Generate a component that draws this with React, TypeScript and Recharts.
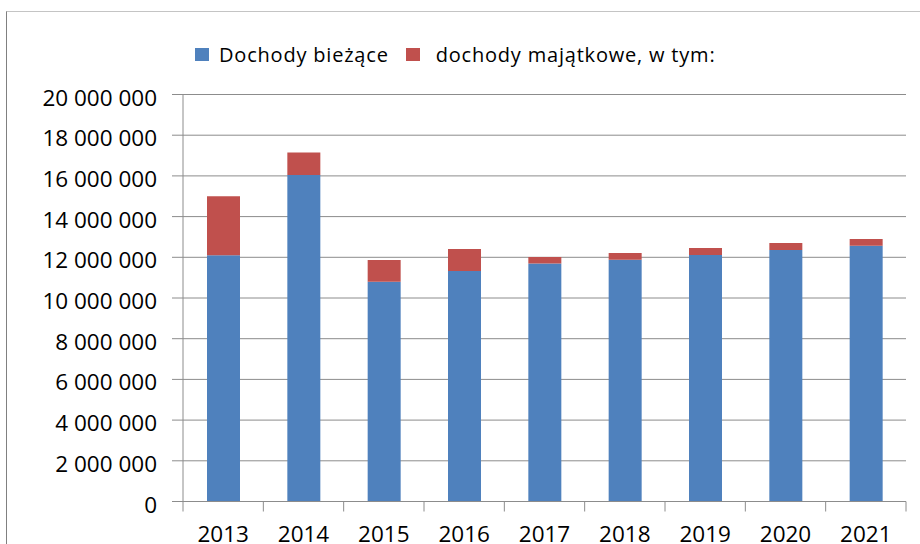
import { BarChart, Bar, XAxis, YAxis, CartesianGrid } from 'recharts';

const YEARS = ['2013', '2014', '2015', '2016', '2017', '2018', '2019', '2020', '2021'];
const DOCHODY_BIEZACE = [12100000, 16050000, 10800000, 11330000, 11690000, 11880000, 12110000, 12360000, 12570000];
const DOCHODY_MAJATKOWE = [2900000, 1100000, 1070000, 1080000, 320000, 330000, 350000, 340000, 330000];
const Y_TICKS = [0, 2000000, 4000000, 6000000, 8000000, 10000000, 12000000, 14000000, 16000000, 18000000, 20000000];
const SERIES = [
  { key: 'biezace', label: 'Dochody bieżące', color: '#4F81BD' },
  { key: 'majatkowe', label: 'dochody majątkowe, w tym:', color: '#C0504D' },
];

const W = 920;
const H = 544;
const X_AXIS_H = 30;
const MARGIN = { top: 94.5, right: 14, bottom: 42.5 - X_AXIS_H, left: 0 };
const Y_AXIS_W = 183;
const PLOT_W = W - MARGIN.left - MARGIN.right - Y_AXIS_W;
const BAND = PLOT_W / YEARS.length;
const FONT = '"Open Sans", sans-serif';
const AXIS_GRAY = '#8c8c8c';

const data = YEARS.map((year, i) => ({
  year,
  biezace: DOCHODY_BIEZACE[i],
  majatkowe: DOCHODY_MAJATKOWE[i],
}));

const fmt = (v: number) => v.toString().replace(/\B(?=(\d{3})+(?!\d))/g, ' ');

const X_TICK_SIZE = 10;
const X_TICK_MARGIN = 15;

function XTick(props: any) {
  const { x, y, payload, index } = props;
  const axisY = y - X_TICK_SIZE - X_TICK_MARGIN;
  const half = BAND / 2;
  return (
    <g>
      <line x1={x - half} x2={x - half} y1={axisY} y2={axisY + X_TICK_SIZE} stroke={AXIS_GRAY} />
      {index === YEARS.length - 1 && (
        <line x1={x + half} x2={x + half} y1={axisY} y2={axisY + X_TICK_SIZE} stroke={AXIS_GRAY} />
      )}
      <text x={x} y={y} dy="0.71em" textAnchor="middle" fontSize={22.5} fontFamily={FONT} fill="#000">
        {payload.value}
      </text>
    </g>
  );
}

function YTick(props: any) {
  const { x, y, payload } = props;
  return (
    <text x={x} y={y} dy={11} textAnchor="end" fontSize={22.5} fontFamily={FONT} fill="#000">
      {fmt(payload.value)}
    </text>
  );
}

function LegendBox() {
  return (
    <div
      style={{
        position: 'absolute',
        top: 41,
        left: 195,
        display: 'flex',
        alignItems: 'center',
        fontFamily: FONT,
        fontSize: 20,
        letterSpacing: 0.8,
        color: '#000',
        whiteSpace: 'nowrap',
      }}
    >
      {SERIES.map((s, i) => (
        <div key={s.key} style={{ display: 'flex', alignItems: 'center', marginRight: i === 0 ? 17 : 0 }}>
          <span style={{ width: 14, height: 13, background: s.color, display: 'inline-block', marginRight: i === 0 ? 10 : 16 }} />
          <span>{s.label}</span>
        </div>
      ))}
    </div>
  );
}

export default function App() {
  return (
    <div style={{ position: 'relative', width: W, height: H, overflow: 'hidden', background: '#fff' }}>
      <style>{'body{margin:0}'}</style>
      <div
        style={{
          position: 'absolute',
          left: 6,
          top: 11,
          width: W,
          height: H,
          borderTop: '1px solid #c4c4c4',
          borderLeft: '1px solid #808080',
        }}
      />
      <LegendBox />
      <div style={{ position: 'absolute', left: 0, top: 0 }}>
        <BarChart width={W} height={H} data={data} margin={MARGIN} barSize={33}>
          <CartesianGrid vertical={false} stroke={AXIS_GRAY} />
          <XAxis
            dataKey="year"
            height={X_AXIS_H}
            axisLine={{ stroke: AXIS_GRAY }}
            tickLine={false}
            tickSize={X_TICK_SIZE}
            tickMargin={X_TICK_MARGIN}
            tick={<XTick />}
            interval={0}
          />
          <YAxis
            width={Y_AXIS_W}
            domain={[0, 20000000]}
            ticks={Y_TICKS}
            interval={0}
            axisLine={{ stroke: AXIS_GRAY }}
            tickLine={{ stroke: AXIS_GRAY }}
            tickSize={11}
            tickMargin={15}
            tick={<YTick />}
          />
          {SERIES.map((s) => (
            <Bar key={s.key} dataKey={s.key} stackId="a" fill={s.color} isAnimationActive={false} />
          ))}
        </BarChart>
      </div>
    </div>
  );
}
